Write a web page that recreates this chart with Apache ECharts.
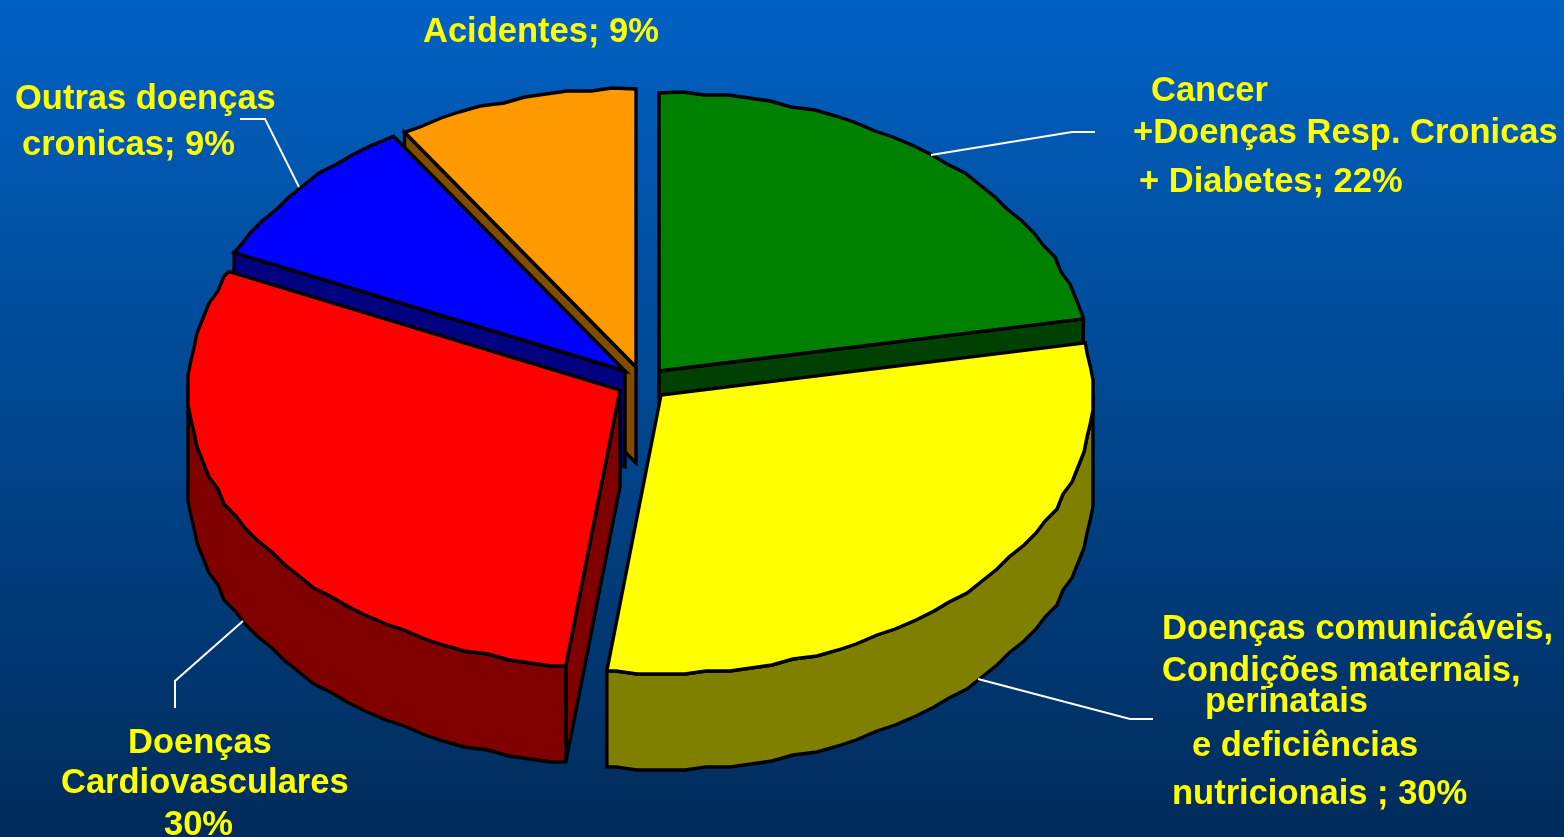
<!DOCTYPE html>
<html>
<head>
<meta charset="utf-8">
<title>Causas de morte</title>
<style>html,body{margin:0;padding:0;background:#003060}#chart{width:1564px;height:837px}</style>
<script src="https://cdn.jsdelivr.net/npm/echarts@6/dist/echarts.min.js"></script>
</head>
<body>
<div id="chart"></div>
<script>
// Slice shares, clockwise from twelve o'clock
const categories = ['Cancer + Doenças Resp. Cronicas + Diabetes', 'Doenças comunicáveis', 'Doenças Cardiovasculares', 'Outras doenças cronicas', 'Acidentes'];
const shares = [22, 30, 30, 9, 9];
const topColors = ['#008000', '#ffff00', '#ff0000', '#0000ff', '#ff9900'];
const sideColors = ['#004000', '#808000', '#800000', '#000080', '#804d00'];
// Exploded centre of each slice on the page
const centres = [[659, 371], [661, 395], [620, 390], [625, 371], [636, 367]];
// Back slices first so the nearer ones cover them
const paintOrder = [4, 3, 0, 2, 1];

const RX = 432, RY = 278, DEPTH = 96;
const STEP = 3, GRID = 3;

const total = shares.reduce((a, b) => a + b, 0);
const startAngles = [];
shares.reduce((sum, v, i) => { startAngles[i] = sum / total * 360; return sum + v; }, 0);

const rad = d => d * Math.PI / 180;
const exact = (c, t) => [c[0] + RX * Math.sin(rad(t)), c[1] - RY * Math.cos(rad(t))];
// Rim points snapped to a coarse grid give the faceted outline
const snapped = (c, t) => {
  const p = exact([0, 0], t);
  return [c[0] + Math.round(p[0] / GRID) * GRID, c[1] + Math.round(p[1] / GRID) * GRID];
};
function rim(c, t0, t1) {
  const pts = [exact(c, t0)];
  for (let t = Math.ceil(t0 / STEP + 0.3) * STEP; t < t1 - STEP * 0.3; t += STEP) pts.push(snapped(c, t));
  pts.push(exact(c, t1));
  return pts;
}
const lower = p => [p[0], p[1] + DEPTH];
const face = (points, fill) => ({
  type: 'polygon',
  shape: { points },
  style: { fill, stroke: '#000', lineWidth: 3.4, lineJoin: 'miter', miterLimit: 6 }
});

function renderSlice(params, api) {
  const i = api.value(0);
  const c = centres[i];
  const t0 = startAngles[i];
  const t1 = t0 + api.value(1) / total * 360;
  const arc = rim(c, t0, t1);
  const children = [];
  // Only the walls that face the viewer are painted
  if (Math.sin(rad(t0)) < -1e-6) children.push(face([c, arc[0], lower(arc[0]), lower(c)], sideColors[i]));
  if (Math.sin(rad(t1)) > 1e-6) {
    const end = arc[arc.length - 1];
    children.push(face([c, end, lower(end), lower(c)], sideColors[i]));
  }
  const f0 = Math.max(t0, 90), f1 = Math.min(t1, 270);
  if (f1 > f0) {
    const front = rim(c, f0, f1);
    children.push(face(front.concat(front.slice().reverse().map(lower)), sideColors[i]));
  }
  children.push(face([c].concat(arc), topColors[i]));
  return { type: 'group', children };
}

// Callout text, one entry per printed line
const labelLines = [
  ['Acidentes; 9%', 423, 32],
  ['Outras doenças', 15, 99],
  ['cronicas; 9%', 22, 145],
  ['Cancer', 1151, 91],
  ['+Doenças Resp. Cronicas', 1133, 133],
  ['+ Diabetes; 22%', 1139, 182],
  ['Doenças comunicáveis,', 1162, 629],
  ['Condições maternais,', 1162, 671],
  ['perinatais', 1205, 702],
  ['e deficiências', 1192, 746],
  ['nutricionais ; 30%', 1172, 794],
  ['Doenças', 128, 743],
  ['Cardiovasculares', 61, 783],
  ['30%', 164, 825]
];
const leaderLines = [
  [[931, 155], [1072, 132], [1095, 132]],
  [[978, 679], [1130, 719], [1153, 719]],
  [[243, 621], [175, 681], [175, 708]],
  [[299, 187], [265, 119], [240, 119]]
];

const chart = echarts.init(document.getElementById('chart'), null, { renderer: 'canvas' });
chart.setOption({
  animation: false,
  backgroundColor: {
    type: 'linear', x: 0, y: 0, x2: 0, y2: 1,
    colorStops: [{ offset: 0, color: '#0061c3' }, { offset: 1, color: '#002b5a' }]
  },
  series: [{
    type: 'custom',
    coordinateSystem: 'none',
    name: 'Causas',
    encode: { itemName: 2, value: 1 },
    data: paintOrder.map(i => [i, shares[i], categories[i]]),
    renderItem: renderSlice
  }],
  graphic: {
    elements: [
      ...leaderLines.map(points => ({
        type: 'polyline', z: 20, silent: true,
        shape: { points },
        style: { stroke: '#fff', lineWidth: 2, fill: null }
      })),
      ...labelLines.map(([text, x, y]) => ({
        type: 'text', z: 30, silent: true, x, y,
        style: {
          text, fill: '#ffff00', textVerticalAlign: 'middle',
          font: 'bold 34.5px "Liberation Sans", Arial, sans-serif'
        }
      }))
    ]
  }
});
</script>
</body>
</html>
